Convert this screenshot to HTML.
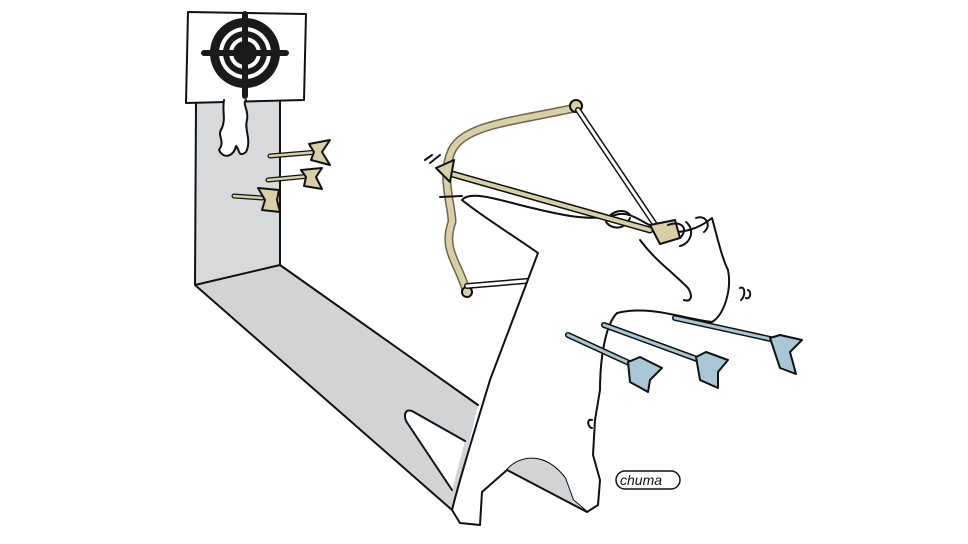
<!DOCTYPE html>
<html><head><meta charset="utf-8"><style>
html,body{margin:0;padding:0;background:#fff;}
svg{display:block;}
</style></head><body>
<svg width="968" height="544" viewBox="0 0 968 544" xmlns="http://www.w3.org/2000/svg" fill="none" stroke="#111" stroke-width="2" stroke-linejoin="round" stroke-linecap="round">
<rect width="968" height="544" fill="#fff" stroke="none"/>
<!-- shadow -->
<path d="M196 102 L280 102 L280 265 L196 285 Z" fill="#d8d9db" stroke="none"/>
<path d="M196 285 L280 265 L478 405 C470 440 460 480 452 510 Z" fill="#d2d3d5" stroke="none"/>
<path d="M196 102 L195 285 M280 102 L280 265 M195 285 L280 265 M280 265 L478 405 M195 285 L452 510"/>
<!-- notch -->
<path d="M465 441 L412 411 C404 408 403 418 408 424 L452 490 Z" fill="#fff" stroke="none"/>
<path d="M465 441 L412 411 C404 408 403 418 408 424 L452 490"/>
<!-- target -->
<path d="M188 12 L306 14 L304 100 L186 103 Z" fill="#fff"/>
<circle cx="245" cy="53" r="35" fill="#1a1a1a" stroke="none"/>
<circle cx="245" cy="53" r="26" fill="#fff" stroke="none"/>
<circle cx="245" cy="53" r="22" fill="#1a1a1a" stroke="none"/>
<circle cx="245" cy="53" r="16" fill="#fff" stroke="none"/>
<circle cx="245" cy="53" r="12" fill="#1a1a1a" stroke="none"/>
<path d="M204 53 L286 53 M245 14 L245 96" stroke="#1a1a1a" stroke-width="6"/>
<!-- shadow figure on wall -->
<path d="M224 100 C222 112 226 118 222 128 C216 136 226 140 219 150 C224 160 234 156 236 146 C240 150 238 158 246 152 C252 140 244 130 247 120 C249 110 242 104 246 100" fill="#fff"/>
<!-- arrows in wall -->
<g fill="#d8cfa8">
<path d="M270 156 L318 152" stroke="#111" stroke-width="5"/>
<path d="M270 156 L318 152" stroke="#d8cfa8" stroke-width="2.5"/>
<path d="M309 144 L330 140 L322 152 L330 165 L311 160 L314 152 Z"/>
<path d="M268 180 L310 176" stroke="#111" stroke-width="5"/>
<path d="M268 180 L310 176" stroke="#d8cfa8" stroke-width="2.5"/>
<path d="M301 170 L322 168 L316 177 L322 189 L304 186 L306 177 Z"/>
<path d="M234 196 L262 198" stroke="#111" stroke-width="5"/>
<path d="M234 196 L262 198" stroke="#d8cfa8" stroke-width="2.5"/>
<path d="M258 188 L279 190 L277 200 L280 212 L262 210 L265 200 Z"/>
</g>
<!-- bow (behind) -->
<path d="M466 290 C458 262 442 250 452 222 C452 205 440 175 452 150 C465 125 510 122 575 108" stroke="#6f664a" stroke-width="9"/>
<path d="M466 290 C458 262 442 250 452 222 C452 205 440 175 452 150 C465 125 510 122 575 108" stroke="#d8cfa8" stroke-width="6"/>
<circle cx="576" cy="106" r="6" fill="#d8cfa8"/>
<circle cx="467" cy="292" r="5" fill="#d8cfa8"/>
<path d="M467 286 L538 280" stroke-width="6"/>
<path d="M467 286 L538 280" stroke="#fff" stroke-width="3"/>
<path d="M578 110 L660 232" stroke="#111" stroke-width="6"/>
<path d="M578 110 L660 232" stroke="#fff" stroke-width="3"/>
<!-- archer body -->
<path d="M538 253 C520 240 480 215 462 200 C470 190 500 200 520 205 C560 215 590 222 615 215 C630 210 640 222 660 230 C680 236 700 228 712 218 C718 240 722 258 728 270 C732 290 724 315 712 322 C680 318 650 305 617 313 C605 325 600 360 600 390 L595 420 L593 455 L600 480 L598 505 L587 512 L573 500 L565 478 C545 452 520 455 507 470 L482 492 L480 525 L460 523 L452 510 C462 470 475 430 490 380 Z" fill="#fff"/>
<path d="M507 470 C520 455 545 452 565 478 L573 500 L587 512 Z" fill="#d2d3d5" stroke="none"/>
<path d="M507 470 L587 512"/>
<path d="M640 240 C655 260 670 270 688 288 C694 298 690 302 684 300"/>
<path d="M592 420 C586 418 588 428 592 428"/>
<!-- hands -->
<path d="M606 222 C610 210 625 208 630 215 M630 218 C625 230 612 230 606 222"/>
<!-- arrow nocked -->
<path d="M445 172 L650 230" stroke="#111" stroke-width="7"/>
<path d="M445 172 L650 230" stroke="#d8cfa8" stroke-width="4"/>
<path d="M436 168 L454 160 L450 182 Z" fill="#d8cfa8"/>
<path d="M650 225 L675 220 L680 238 L660 244 Z" fill="#d8cfa8"/>
<path d="M668 225 C680 220 690 228 680 238 M686 222 C696 230 690 244 680 246 M696 218 C706 214 712 226 704 232"/>
<path d="M440 197 L462 196"/>
<path d="M425 160 L432 155 M430 163 L440 155 M740 288 C745 285 746 296 741 300 M748 290 C752 292 750 300 746 298"/>
<!-- blue arrows -->
<g fill="#a9c6d6">
<path d="M568 335 L640 368" stroke="#111" stroke-width="6"/>
<path d="M568 335 L640 368" stroke="#a9c6d6" stroke-width="3"/>
<path d="M628 362 L640 357 L662 368 L650 380 L648 392 L630 382 Z"/>
<path d="M604 325 L705 362" stroke="#111" stroke-width="6"/>
<path d="M604 325 L705 362" stroke="#a9c6d6" stroke-width="3"/>
<path d="M696 357 L706 352 L728 360 L718 372 L718 388 L700 380 Z"/>
<path d="M675 318 L775 340" stroke="#111" stroke-width="6"/>
<path d="M675 318 L775 340" stroke="#a9c6d6" stroke-width="3"/>
<path d="M770 338 L780 335 L802 340 L790 352 L796 374 L780 368 Z"/>
</g>
<!-- signature -->
<rect x="616" y="471" width="64" height="18" rx="9" stroke-width="1.5"/>
<text x="620" y="485" font-family="Liberation Sans, sans-serif" font-size="14" font-style="italic" fill="#111" stroke="none">chuma</text>
</svg>
</body></html>
